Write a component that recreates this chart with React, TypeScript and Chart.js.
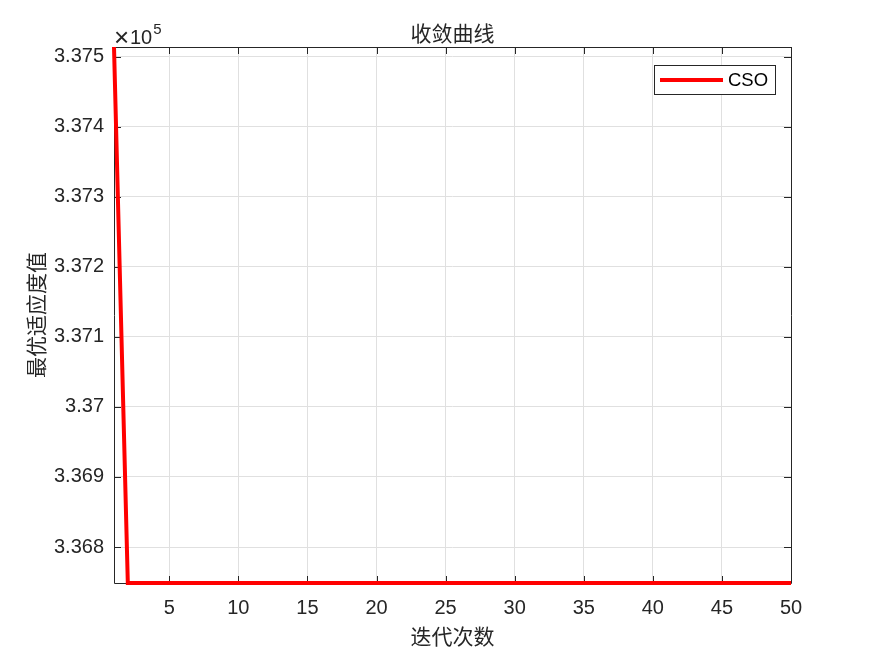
import React, { useEffect, useRef } from "react";
import { Chart, registerables } from "chart.js";

Chart.register(...registerables);

const iterations = [
  1, 2, 3, 4, 5, 6, 7, 8, 9, 10, 11, 12, 13, 14, 15, 16, 17, 18, 19, 20, 21, 22, 23, 24, 25,
  26, 27, 28, 29, 30, 31, 32, 33, 34, 35, 36, 37, 38, 39, 40, 41, 42, 43, 44, 45, 46, 47, 48, 49, 50,
];
const fitness = [
  337514, 336748.6, 336748.6, 336748.6, 336748.6, 336748.6, 336748.6, 336748.6, 336748.6, 336748.6,
  336748.6, 336748.6, 336748.6, 336748.6, 336748.6, 336748.6, 336748.6, 336748.6, 336748.6, 336748.6,
  336748.6, 336748.6, 336748.6, 336748.6, 336748.6, 336748.6, 336748.6, 336748.6, 336748.6, 336748.6,
  336748.6, 336748.6, 336748.6, 336748.6, 336748.6, 336748.6, 336748.6, 336748.6, 336748.6, 336748.6,
  336748.6, 336748.6, 336748.6, 336748.6, 336748.6, 336748.6, 336748.6, 336748.6, 336748.6, 336748.6,
];
const xTicks = [5, 10, 15, 20, 25, 30, 35, 40, 45, 50];
const yTicks = [336800, 336900, 337000, 337100, 337200, 337300, 337400, 337500];
const xMin = 1;
const xMax = 50;
const yMin = 336748.6;
const yMax = 337514;
const seriesName = "CSO";
const titleText = "收敛曲线";
const xTitle = "迭代次数";
const yTitle = "最优适应度值";
const exponentTimes = "×";
const exponentBase = "10";
const exponentPower = "5";

const TEXT = "#262626";
const SANS = "'Liberation Sans', Arial, sans-serif";
const CJK = "'Noto Sans CJK SC', sans-serif";

const decorPlugin = {
  id: "decor",
  beforeDatasetsDraw(chart: any) {
    const { ctx, chartArea } = chart;
    const { left, right, top, bottom } = chartArea;
    const xs = chart.scales.x;
    const ys = chart.scales.y;
    ctx.save();
    ctx.strokeStyle = TEXT;
    ctx.lineWidth = 1;
    ctx.beginPath();
    ctx.rect(Math.round(left) + 0.5, Math.round(top) + 0.5, Math.round(right - left), Math.round(bottom - top));
    ctx.stroke();
    const tl = 7;
    ctx.beginPath();
    xTicks.forEach((v) => {
      const px = Math.round(xs.getPixelForValue(v)) + 0.5;
      ctx.moveTo(px, bottom);
      ctx.lineTo(px, bottom - tl);
      ctx.moveTo(px, top);
      ctx.lineTo(px, top + tl);
    });
    yTicks.forEach((v) => {
      const py = Math.round(ys.getPixelForValue(v)) + 0.5;
      ctx.moveTo(left, py);
      ctx.lineTo(left + tl, py);
      ctx.moveTo(right, py);
      ctx.lineTo(right - tl, py);
    });
    ctx.stroke();
    ctx.restore();
  },
  afterDraw(chart: any) {
    const { ctx, chartArea } = chart;
    const { left, right, top, bottom } = chartArea;
    const cx = (left + right) / 2;
    const cy = (top + bottom) / 2;
    ctx.save();
    ctx.fillStyle = TEXT;
    ctx.textAlign = "center";
    ctx.textBaseline = "middle";
    ctx.font = `21px ${CJK}`;
    ctx.fillText(titleText, cx, 33);
    ctx.fillText(xTitle, cx, 636);
    ctx.save();
    ctx.translate(36, cy);
    ctx.rotate(-Math.PI / 2);
    ctx.fillText(yTitle, 0, 0);
    ctx.restore();

    // exponent
    ctx.textAlign = "left";
    ctx.textBaseline = "alphabetic";
    ctx.font = `26px ${SANS}`;
    ctx.fillText(exponentTimes, left, 46);
    ctx.font = `20px ${SANS}`;
    ctx.fillText(exponentBase, left + 16, 44);
    const w = ctx.measureText(exponentBase).width;
    ctx.font = `15px ${SANS}`;
    ctx.fillText(exponentPower, left + 16 + w + 1, 34);

    // legend
    const lx = 654, ly = 65, lw = 121, lh = 29;
    ctx.fillStyle = "#ffffff";
    ctx.fillRect(lx, ly, lw, lh);
    ctx.strokeStyle = TEXT;
    ctx.lineWidth = 1;
    ctx.strokeRect(lx + 0.5, ly + 0.5, lw, lh);
    ctx.strokeStyle = "#ff0000";
    ctx.lineWidth = 4;
    ctx.beginPath();
    ctx.moveTo(lx + 6, ly + 15);
    ctx.lineTo(lx + 69, ly + 15);
    ctx.stroke();
    ctx.fillStyle = "#000000";
    ctx.font = `18.5px ${SANS}`;
    ctx.textBaseline = "middle";
    ctx.fillText(seriesName, lx + 74, ly + 16);
    ctx.restore();
  },
};

export default function App() {
  const ref = useRef<HTMLCanvasElement | null>(null);
  useEffect(() => {
    if (!ref.current) return;
    const chart = new Chart(ref.current, {
      type: "line",
      data: {
        datasets: [
          {
            label: seriesName,
            data: iterations.map((x, i) => ({ x, y: fitness[i] })),
            borderColor: "#ff0000",
            backgroundColor: "#ff0000",
            borderWidth: 4,
            pointRadius: 0,
            tension: 0,
            clip: false as any,
            borderJoinStyle: "miter",
          } as any,
        ],
      },
      options: {
        responsive: false,
        animation: false,
        layout: { padding: { top: 47, right: 84, left: 0, bottom: 0 } },
        plugins: {
          legend: { display: false },
          title: { display: false },
          tooltip: { enabled: false },
        },
        scales: {
          x: {
            type: "linear",
            min: xMin,
            max: xMax,
            afterBuildTicks: (s: any) => {
              s.ticks = xTicks.map((v) => ({ value: v }));
            },
            afterFit: (s: any) => {
              s.height = 73;
            },
            grid: { color: "#e0e0e0", drawTicks: false, lineWidth: 1 },
            border: { display: false },
            ticks: {
              autoSkip: false,
              maxRotation: 0,
              padding: 13,
              color: TEXT,
              font: { family: SANS, size: 20 },
              callback: (v: any) => String(v),
            },
          },
          y: {
            type: "linear",
            min: yMin,
            max: yMax,
            afterBuildTicks: (s: any) => {
              s.ticks = yTicks.map((v) => ({ value: v }));
            },
            afterFit: (s: any) => {
              s.width = 114;
            },
            grid: { color: "#e0e0e0", drawTicks: false, lineWidth: 1 },
            border: { display: false },
            ticks: {
              autoSkip: false,
              padding: 10,
              color: TEXT,
              font: { family: SANS, size: 20 },
              callback: (v: any) => String(Number((Number(v) / 1e5).toFixed(3))),
            },
          },
        },
      },
      plugins: [decorPlugin],
    });
    return () => chart.destroy();
  }, []);
  return (
    <div style={{ position: "absolute", left: 0, top: 0, width: 875, height: 656, background: "#fff" }}>
      <canvas ref={ref} width={875} height={656} style={{ display: "block" }} />
    </div>
  );
}
